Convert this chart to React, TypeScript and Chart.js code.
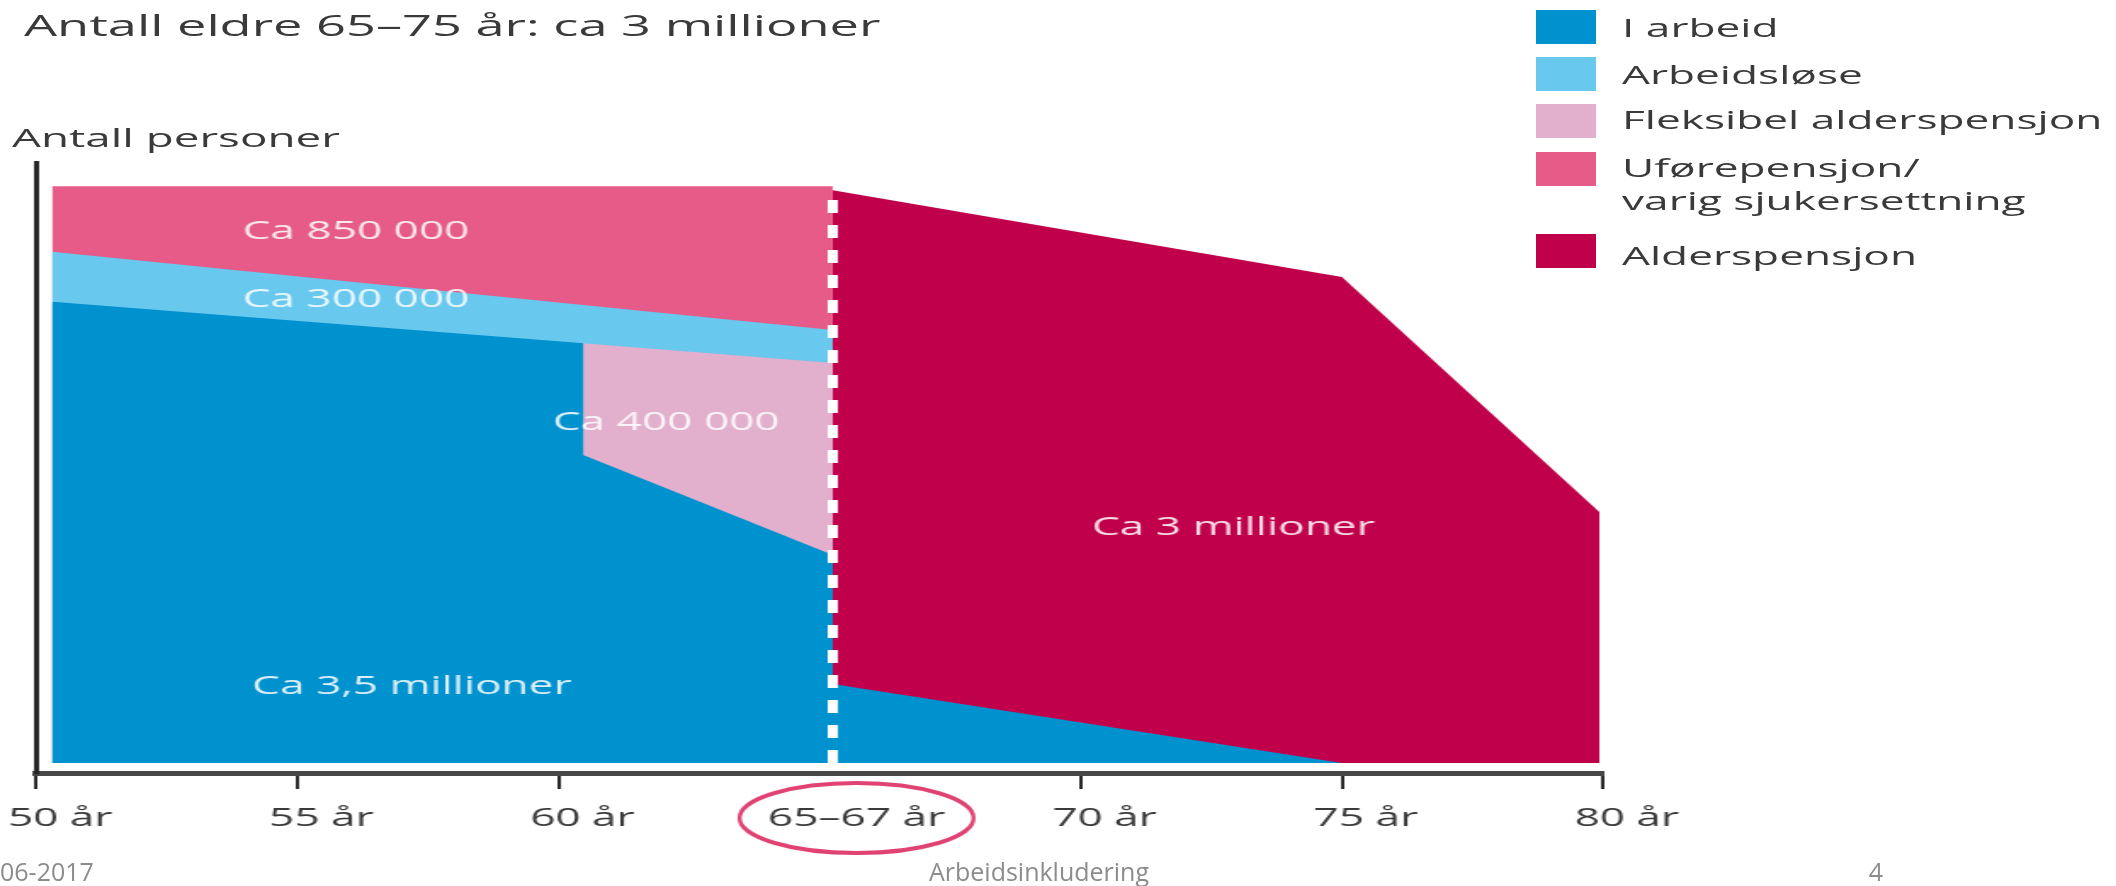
import React, { useEffect, useRef } from "react";
import { Chart, registerables } from "chart.js";

Chart.register(...registerables);

// ---------- data ----------
const ageTicks = [50, 55, 60, 65.25, 70, 75, 80];
const ageTickLabels = ["50 år", "55 år", "60 år", "65–67 år", "70 år", "75 år", "80 år"];

// boundaries (age in years, relative number of persons)
const iArbeidX = [50.3, 60.47, 60.47, 65.25, 65.25, 75];
const iArbeidY = [79.98, 72.76, 53.4, 36.06, 13.7, 0];
const arbeidsloseX = [50.3, 65.25];
const arbeidsloseY = [88.64, 75.07];
const fleksibelX = [60.47, 65.25];
const fleksibelY = [72.76, 69.35];
const uforeX = [50.3, 65.25];
const uforeY = [100, 100];
const alderX = [65.25, 75, 79.93];
const alderY = [99.3, 84.26, 43.52];
const pensionAgeX = [65.25, 65.25];
const pensionAgeY = [0, 99.6];

const seriesNames = ["I arbeid", "Arbeidsløse", "Fleksibel alderspensjon", "Uførepensjon/\nvarig sjukersettning", "Alderspensjon"];
const seriesColors = ["#0091CF", "#68C8EE", "#E2AFCD", "#E65B87", "#C1004B"];

const areaLabels = ["Ca 850 000", "Ca 300 000", "Ca 400 000", "Ca 3,5 millioner", "Ca 3 millioner"];
const areaLabelX = [56.12, 56.12, 62.06, 57.19, 72.92];
const areaLabelY = [92.06, 80.27, 59.1, 13.2, 40.9];

const titleText = "Antall eldre 65–75 år: ca 3 millioner";
const yTitleText = "Antall personer";
const footerLeft = "06-2017";
const footerCenter = "Arbeidsinkludering";
const footerRight = "4";

// ---------- layout ----------
const PAGE_W = 2116;
const PAGE_H = 886;
const STRETCH = 1.7;
const CANVAS_W = Math.round(PAGE_W / STRETCH);
const S = PAGE_W / CANVAS_W;
const FONT = "'Open Sans', 'Noto Sans', sans-serif";
const LABEL_OFFSET = 14;

const pts = (xs: number[], ys: number[]) => xs.map((x, i) => ({ x, y: ys[i] }));

const overlayPlugin = {
  id: "overlay",
  afterDatasetsDraw(chart: any) {
    const { ctx, scales } = chart;
    const x = scales.x;
    const y = scales.y;
    ctx.save();
    ctx.font = `26px ${FONT}`;
    ctx.fillStyle = "rgba(255,255,255,0.86)";
    ctx.textAlign = "center";
    ctx.textBaseline = "middle";
    areaLabels.forEach((t, i) => {
      ctx.fillText(t, x.getPixelForValue(areaLabelX[i]), y.getPixelForValue(areaLabelY[i]));
    });
    ctx.restore();
  },
  afterDraw(chart: any) {
    const { ctx, scales, chartArea } = chart;
    const x = scales.x;
    const cx = x.getPixelForValue(ageTicks[3]) + LABEL_OFFSET;
    const cy = chartArea.bottom + 45;
    ctx.save();
    ctx.translate(cx, cy);
    ctx.scale(1 / S, 1);
    ctx.beginPath();
    ctx.ellipse(0, 0, 117, 35, 0, 0, Math.PI * 2);
    ctx.strokeStyle = "#E04372";
    ctx.lineWidth = 4;
    ctx.stroke();
    ctx.restore();
  },
};

function ChartCanvas() {
  const ref = useRef<HTMLCanvasElement | null>(null);
  useEffect(() => {
    if (!ref.current) return;
    const area = (i: number, xs: number[], ys: number[]) => ({
      label: seriesNames[i],
      data: pts(xs, ys),
      backgroundColor: seriesColors[i],
      borderColor: "rgba(0,0,0,0)",
      borderWidth: 0,
      fill: "origin",
      pointRadius: 0,
      tension: 0,
    });
    const chart = new Chart(ref.current, {
      type: "line",
      data: {
        datasets: [
          {
            label: "pension age",
            data: pts(pensionAgeX, pensionAgeY),
            borderColor: "#ffffff",
            borderWidth: 6,
            borderDash: [13, 12],
            fill: false,
            pointRadius: 0,
          } as any,
          area(0, iArbeidX, iArbeidY),
          area(2, fleksibelX, fleksibelY),
          area(1, arbeidsloseX, arbeidsloseY),
          area(3, uforeX, uforeY),
          area(4, alderX, alderY),
        ],
      },
      options: {
        responsive: false,
        devicePixelRatio: 1,
        animation: false,
        layout: { padding: { left: 36.4 / S, right: CANVAS_W - 1603 / S, top: 162, bottom: 0 } },
        plugins: { legend: { display: false }, tooltip: { enabled: false }, title: { display: false } },
        scales: {
          x: {
            type: "linear",
            min: 50,
            max: 80,
            afterBuildTicks: (s: any) => {
              s.ticks = ageTicks.map((v) => ({ value: v }));
            },
            afterFit: (s: any) => {
              s.height = PAGE_H - 773;
              s.paddingLeft = 0;
              s.paddingRight = 0;
            },
            ticks: {
              autoSkip: false,
              maxRotation: 0,
              padding: 14,
              labelOffset: LABEL_OFFSET,
              color: "#3a3a3a",
              font: { family: FONT, size: 26 },
              callback: (_v: any, i: number) => ageTickLabels[i],
            },
            grid: {
              drawOnChartArea: false,
              drawTicks: true,
              tickLength: 16,
              lineWidth: 2,
              color: (c: any) => (c.tick && c.tick.value === ageTicks[3] ? "rgba(0,0,0,0)" : "#2a2a2a"),
            },
            border: { display: true, color: "#474747", width: 5 },
          },
          y: {
            type: "linear",
            min: -1.73,
            max: 104.2,
            afterFit: (s: any) => {
              s.width = 0;
              s.paddingTop = 0;
              s.paddingBottom = 0;
            },
            ticks: { display: false },
            grid: { display: false, drawTicks: false },
            border: { display: true, color: "#262626", width: 3 },
          },
        },
      } as any,
      plugins: [overlayPlugin],
    });
    return () => chart.destroy();
  }, []);
  return (
    <canvas
      ref={ref}
      width={CANVAS_W}
      height={PAGE_H}
      style={{ position: "absolute", left: 0, top: 0, width: `${PAGE_W}px`, height: `${PAGE_H}px` }}
    />
  );
}

const textStyle = (left: number, capCenter: number, size: number, scale = STRETCH, color = "#3a3a3a"): React.CSSProperties => ({
  position: "absolute",
  left,
  top: capCenter - 0.531 * size,
  fontFamily: FONT,
  fontSize: size,
  lineHeight: `${size}px`,
  color,
  whiteSpace: "nowrap",
  transform: `scaleX(${scale})`,
  transformOrigin: "left top",
});

const legendBoxTops = [10, 57, 104, 152, 234];
const legendTextCenters = [28, 75, 120, 168, 256];

export default function App() {
  return (
    <div
      style={{
        position: "fixed",
        left: 0,
        top: 0,
        width: PAGE_W,
        height: PAGE_H,
        overflow: "hidden",
        background: "#ffffff",
      }}
    >
      <ChartCanvas />
      <div style={textStyle(24, 26, 30, 1.745)}>{titleText}</div>
      <div style={textStyle(12, 138, 26, 1.76)}>{yTitleText}</div>
      {seriesNames.map((name, i) => (
        <React.Fragment key={name}>
          <div
            style={{
              position: "absolute",
              left: 1536,
              top: legendBoxTops[i],
              width: 60,
              height: 34,
              background: seriesColors[i],
            }}
          />
          {name.split("\n").map((line, j) => (
            <div key={j} style={textStyle(1622, legendTextCenters[i] + j * 33, 26)}>
              {line}
            </div>
          ))}
        </React.Fragment>
      ))}
      <div style={{ ...textStyle(0, 872, 25, 1, "#8c8c8c") }}>{footerLeft}</div>
      <div style={{ ...textStyle(1039, 872, 25, 1, "#8c8c8c"), transform: "translateX(-50%)" }}>{footerCenter}</div>
      <div style={{ ...textStyle(1876, 872, 25, 1, "#8c8c8c"), transform: "translateX(-50%)" }}>{footerRight}</div>
    </div>
  );
}
